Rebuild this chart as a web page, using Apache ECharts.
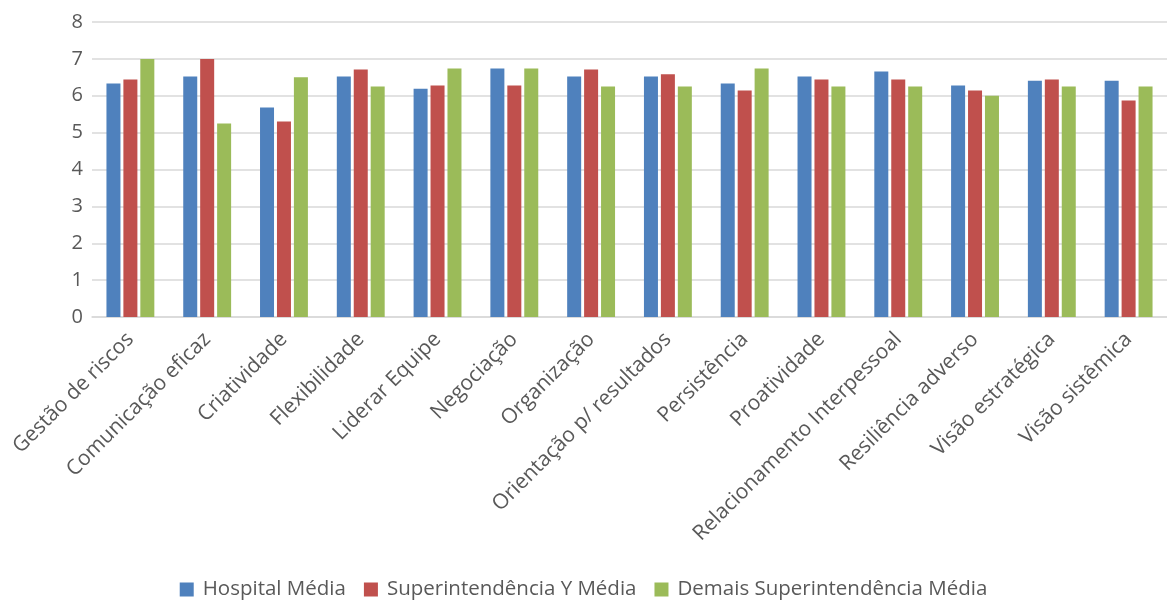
<!DOCTYPE html>
<html>
<head>
<meta charset="utf-8">
<script src="https://cdn.jsdelivr.net/npm/echarts@6/dist/echarts.min.js"></script>
<style>
  html, body { margin: 0; padding: 0; background: #fff; }
  #chart { width: 1167px; height: 601px; }
</style>
</head>
<body>
<div id="chart"></div>
<script>
// Data
var categories = ['Gestão de riscos', 'Comunicação eficaz', 'Criatividade', 'Flexibilidade',
    'Liderar Equipe', 'Negociação', 'Organização', 'Orientação p/ resultados', 'Persistência',
    'Proatividade', 'Relacionamento Interpessoal', 'Resiliência adverso', 'Visão estratégica',
    'Visão sistêmica'];
var hospitalMedia = [6.33, 6.52, 5.68, 6.52, 6.19, 6.74, 6.52, 6.52, 6.33, 6.52, 6.66, 6.28, 6.41, 6.41];
var superYMedia = [6.44, 7.0, 5.3, 6.71, 6.28, 6.28, 6.71, 6.58, 6.14, 6.44, 6.44, 6.14, 6.44, 5.87];
var demaisMedia = [7.0, 5.25, 6.5, 6.25, 6.74, 6.74, 6.25, 6.25, 6.74, 6.25, 6.25, 6.0, 6.25, 6.25];
var seriesNames = ['Hospital Média', 'Superintendência Y Média', 'Demais Superintendência Média'];

var chartElement = document.getElementById('chart');
var chart = echarts.init(chartElement, null, { renderer: 'canvas' });

var fontFamily = '"Open Sans", "Noto Sans", sans-serif';
var textColor = '#595959';

function barSeries(name, data, color) {
    return {
        name: name,
        type: 'bar',
        data: data,
        barWidth: 14,
        barGap: '21%',
        itemStyle: { color: color }
    };
}

chart.setOption({
    animation: false,
    backgroundColor: '#fff',
    textStyle: { fontFamily: fontFamily, color: textColor },
    grid: {
        left: 92,
        top: 22,
        width: 1076,
        height: 295,
        containLabel: false
    },
    legend: {
        top: 574,
        left: 'center',
        itemWidth: 14,
        itemHeight: 14,
        itemGap: 18,
        icon: 'rect',
        textStyle: { fontSize: 20.5, color: textColor, fontFamily: fontFamily, padding: [0, 0, 0, 4] },
        data: seriesNames
    },
    xAxis: {
        type: 'category',
        data: categories,
        axisTick: { show: false },
        axisLine: { lineStyle: { color: '#d9d9d9', width: 1.5 } },
        axisLabel: {
            rotate: 45,
            interval: 0,
            fontSize: 21,
            color: textColor,
            margin: 19
        }
    },
    yAxis: {
        type: 'value',
        min: 0,
        max: 8,
        interval: 1,
        axisLine: { show: false },
        axisTick: { show: false },
        axisLabel: { fontSize: 20, color: textColor, margin: 9 },
        splitLine: { lineStyle: { color: '#d9d9d9', width: 1.5 } }
    },
    series: [
        barSeries(seriesNames[0], hospitalMedia, '#4f81bd'),
        barSeries(seriesNames[1], superYMedia, '#c0504d'),
        barSeries(seriesNames[2], demaisMedia, '#9bbb59')
    ]
});

window.addEventListener('resize', function() {
    chart.resize();
});
</script>
</body>
</html>
